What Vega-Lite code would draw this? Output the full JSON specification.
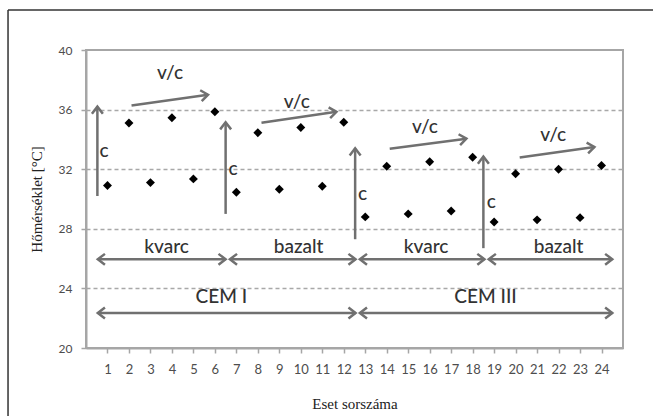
{
  "$schema": "https://vega.github.io/schema/vega-lite/v6.json",
  "width": 537,
  "height": 298,
  "autosize": "none",
  "padding": {"left": 86, "top": 50, "right": 30, "bottom": 68},
  "background": "white",
  "config": {
    "view": {"stroke": "#a6a6a6", "strokeWidth": 2}
  },
  "datasets": {
    "points": [
      {"x": 1, "y": 30.9}, {"x": 2, "y": 35.1}, {"x": 3, "y": 31.1}, {"x": 4, "y": 35.45},
      {"x": 5, "y": 31.35}, {"x": 6, "y": 35.85}, {"x": 7, "y": 30.45}, {"x": 8, "y": 34.45},
      {"x": 9, "y": 30.65}, {"x": 10, "y": 34.8}, {"x": 11, "y": 30.85}, {"x": 12, "y": 35.15},
      {"x": 13, "y": 28.8}, {"x": 14, "y": 32.2}, {"x": 15, "y": 29.0}, {"x": 16, "y": 32.5},
      {"x": 17, "y": 29.2}, {"x": 18, "y": 32.8}, {"x": 19, "y": 28.45}, {"x": 20, "y": 31.7},
      {"x": 21, "y": 28.6}, {"x": 22, "y": 32.0}, {"x": 23, "y": 28.75}, {"x": 24, "y": 32.25}
    ],
    "vArrows": [
      {"x": 0.53, "y": 30.2, "y2": 36.2},
      {"x": 6.5, "y": 29.0, "y2": 35.15},
      {"x": 12.53, "y": 27.3, "y2": 33.4},
      {"x": 18.5, "y": 26.7, "y2": 32.85}
    ],
    "sArrows": [
      {"x": 2.12, "y": 36.27, "x2": 5.68, "y2": 37.0},
      {"x": 8.17, "y": 35.11, "x2": 11.66, "y2": 35.85},
      {"x": 14.14, "y": 33.38, "x2": 17.71, "y2": 34.05},
      {"x": 20.19, "y": 32.78, "x2": 23.67, "y2": 33.49}
    ],
    "hArrows": [
      {"x": 0.55, "x2": 6.5, "y": 25.95},
      {"x": 6.7, "x2": 12.55, "y": 25.95},
      {"x": 12.75, "x2": 18.55, "y": 25.95},
      {"x": 18.75, "x2": 24.5, "y": 25.95},
      {"x": 0.55, "x2": 12.55, "y": 22.35},
      {"x": 12.75, "x2": 24.5, "y": 22.35}
    ],
    "labels": [
      {"x": 0.84, "y": 33.2, "label": "c"},
      {"x": 6.85, "y": 32.0, "label": "c"},
      {"x": 12.87, "y": 30.33, "label": "c"},
      {"x": 18.87, "y": 29.78, "label": "c"},
      {"x": 3.91, "y": 38.46, "label": "v/c"},
      {"x": 9.81, "y": 36.53, "label": "v/c"},
      {"x": 15.78, "y": 34.85, "label": "v/c"},
      {"x": 21.75, "y": 34.3, "label": "v/c"},
      {"x": 3.75, "y": 26.8, "label": "kvarc"},
      {"x": 9.9, "y": 26.8, "label": "bazalt"},
      {"x": 15.83, "y": 26.8, "label": "kvarc"},
      {"x": 22.0, "y": 26.8, "label": "bazalt"},
      {"x": 6.3, "y": 23.4, "label": "CEM I"},
      {"x": 18.6, "y": 23.4, "label": "CEM III"}
    ],
    "frame": [
      {"x": -3.63, "x2": 26.4, "y": 42.68, "y2": 42.68},
      {"x": -3.63, "x2": -3.63, "y": 42.68, "y2": 15.44}
    ]
  },
  "encoding": {
    "x": {
      "field": "x",
      "type": "quantitative",
      "title": "Eset sorszáma",
      "scale": {"domain": [0, 25], "nice": false, "zero": false},
      "axis": {
        "values": [1,2,3,4,5,6,7,8,9,10,11,12,13,14,15,16,17,18,19,20,21,22,23,24],
        "format": "d",
        "grid": false,
        "domainColor": "#a6a6a6",
        "domainWidth": 2,
        "tickColor": "#a6a6a6",
        "tickWidth": 1.5,
        "tickSize": 5,
        "labelFont": "Lato",
        "labelFontSize": 13,
        "labelColor": "#4d4d4d",
        "labelPadding": 10,
        "labelFlush": false,
        "labelOverlap": false,
        "titleFont": "Liberation Serif",
        "titleFontSize": 15,
        "titleFontWeight": "normal",
        "titleColor": "#222222",
        "titlePadding": 20
      }
    },
    "y": {
      "field": "y",
      "type": "quantitative",
      "title": "Hőmérséklet [°C]",
      "scale": {"domain": [20, 40], "nice": false, "zero": false},
      "axis": {
        "values": [20, 24, 28, 32, 36, 40],
        "grid": true,
        "gridDash": [4, 3],
        "gridColor": "#a8a8a8",
        "gridWidth": 1.5,
        "gridOpacity": {"condition": {"test": "datum.value === 20 || datum.value === 40", "value": 0}, "value": 1},
        "domainColor": "#a6a6a6",
        "domainWidth": 2,
        "tickColor": "#a6a6a6",
        "tickWidth": 1.5,
        "tickSize": 5,
        "labelFont": "Lato",
        "labelFontSize": 12,
        "labelColor": "#4d4d4d",
        "labelPadding": 9,
        "labelFlush": false,
        "titleFont": "Liberation Serif",
        "titleFontSize": 15,
        "titleFontWeight": "normal",
        "titleColor": "#222222",
        "titlePadding": 14
      }
    }
  },
  "layer": [
    {
      "data": {"name": "frame"},
      "mark": {"type": "rule", "color": "#333333", "strokeWidth": 1.5},
      "encoding": {
        "x2": {"field": "x2"},
        "y2": {"field": "y2"}
      }
    },
    {
      "data": {"name": "vArrows"},
      "mark": {"type": "rule", "color": "#707070", "strokeWidth": 2.5},
      "encoding": {"y2": {"field": "y2"}}
    },
    {
      "data": {"name": "vArrows"},
      "mark": {"type": "point", "shape": "M-1,1.3L0,0L1,1.3", "filled": false, "stroke": "#707070", "strokeWidth": 2.5, "size": 120, "angle": 0, "opacity": 1},
      "encoding": {"y": {"field": "y2", "type": "quantitative", "title": "Hőmérséklet [°C]"}}
    },
    {
      "data": {"name": "sArrows"},
      "mark": {"type": "rule", "color": "#707070", "strokeWidth": 2.5},
      "encoding": {"x2": {"field": "x2"}, "y2": {"field": "y2"}}
    },
    {
      "data": {"name": "sArrows"},
      "mark": {"type": "point", "shape": "M-1,1.3L0,0L1,1.3", "filled": false, "stroke": "#707070", "strokeWidth": 2.5, "size": 120, "angle": 82, "opacity": 1},
      "encoding": {
        "x": {"field": "x2", "type": "quantitative", "title": "Eset sorszáma"},
        "y": {"field": "y2", "type": "quantitative", "title": "Hőmérséklet [°C]"}
      }
    },
    {
      "data": {"name": "hArrows"},
      "mark": {"type": "rule", "color": "#707070", "strokeWidth": 2.5},
      "encoding": {"x2": {"field": "x2"}}
    },
    {
      "data": {"name": "hArrows"},
      "mark": {"type": "point", "shape": "M-1,1.3L0,0L1,1.3", "filled": false, "stroke": "#707070", "strokeWidth": 2.5, "size": 120, "angle": 270, "opacity": 1},
      "encoding": {}
    },
    {
      "data": {"name": "hArrows"},
      "mark": {"type": "point", "shape": "M-1,1.3L0,0L1,1.3", "filled": false, "stroke": "#707070", "strokeWidth": 2.5, "size": 120, "angle": 90, "opacity": 1},
      "encoding": {"x": {"field": "x2", "type": "quantitative", "title": "Eset sorszáma"}}
    },
    {
      "data": {"name": "labels"},
      "mark": {"type": "text", "font": "Lato", "fontSize": 19, "fontWeight": 500, "color": "#333333", "align": "center", "baseline": "middle"},
      "encoding": {"text": {"field": "label"}}
    },
    {
      "data": {"name": "points"},
      "mark": {"type": "point", "shape": "diamond", "filled": true, "color": "#000000", "size": 80, "opacity": 1}
    }
  ]
}
